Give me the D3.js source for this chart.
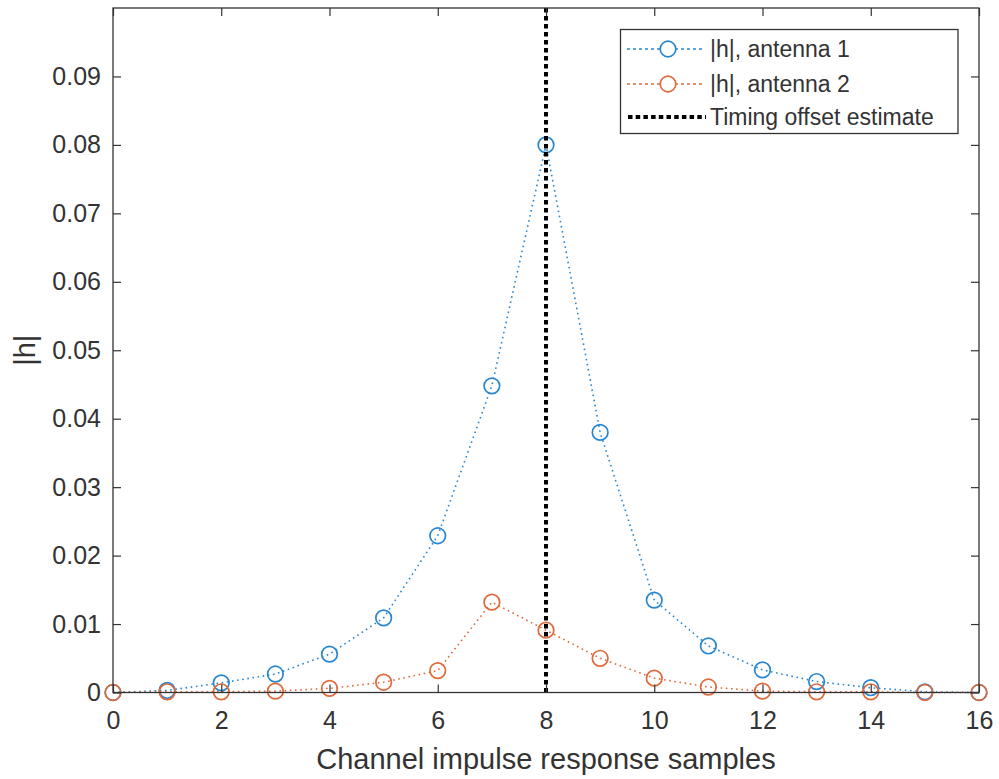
<!DOCTYPE html>
<html>
<head>
<meta charset="utf-8">
<script src="https://cdn.jsdelivr.net/npm/d3@7"></script>
<style>
  html, body { margin: 0; padding: 0; background: #fff; }
  svg { display: block; font-family: "Liberation Sans", Arial, Helvetica, sans-serif; }
</style>
</head>
<body>
<svg id="chart" width="999" height="779"></svg>
<script>
const samples = [0,1,2,3,4,5,6,7,8,9,10,11,12,13,14,15,16];
const antenna1 = [0.0000,0.0003,0.0014,0.0027,0.0056,0.0109,0.0229,0.0448,0.0800,0.0380,0.0135,0.0068,0.0033,0.0016,0.0007,0.0001,0.0000];
const antenna2 = [0.0000,0.0001,0.0001,0.0002,0.0006,0.0015,0.0032,0.0132,0.0091,0.0050,0.0021,0.0008,0.0002,0.0001,0.0001,0.0000,0.0000];
const timingOffset = 8;
const xTicks = [0,2,4,6,8,10,12,14,16];
const yTicks = [0,0.01,0.02,0.03,0.04,0.05,0.06,0.07,0.08,0.09];
const seriesNames = ["|h|, antenna 1", "|h|, antenna 2", "Timing offset estimate"];
const seriesColors = ["#2A86CF", "#E06A3C", "#000000"];

const svg = d3.select("#chart");
const pLeft = 113, pRight = 979, pTop = 8, pBottom = 692.5;
const axisColor = "#333333";
const x = d3.scaleLinear().domain([0,16]).range([pLeft,pRight]);
const y = d3.scaleLinear().domain([0,0.1]).range([pBottom,pTop]);
const tickFont = 25, labelFont = 29, legendFont = 23;

// data series
const series = [antenna1, antenna2];
const line = d3.line().x((d,i)=>x(samples[i])).y(d=>y(d));
series.forEach((vals, k) => {
  const g = svg.append("g");
  g.append("path").datum(vals).attr("d", line)
    .attr("fill","none").attr("stroke",seriesColors[k])
    .attr("stroke-width",1.6).attr("stroke-dasharray","1.6,3.6");
  g.selectAll("circle").data(vals).join("circle")
    .attr("cx",(d,i)=>x(samples[i])).attr("cy",d=>y(d)).attr("r",7.8)
    .attr("fill","none").attr("stroke",seriesColors[k]).attr("stroke-width",1.7);
});

// timing offset line
svg.append("line")
  .attr("x1",x(timingOffset)).attr("x2",x(timingOffset))
  .attr("y1",y(0)).attr("y2",y(0.1))
  .attr("stroke","#000").attr("stroke-width",4).attr("stroke-dasharray","4.5,3.5");

// axes
const xAxisB = d3.axisBottom(x).tickValues(xTicks).tickSize(-8).tickPadding(19).tickFormat(d3.format("d"));
const xAxisT = d3.axisTop(x).tickValues(xTicks).tickSize(-8).tickFormat("");
const yAxisL = d3.axisLeft(y).tickValues(yTicks).tickSize(-8).tickPadding(12).tickFormat(d=> d===0 ? "0" : d3.format(".2f")(d));
const yAxisR = d3.axisRight(y).tickValues(yTicks).tickSize(-8).tickFormat("");

function style(g){
  g.select(".domain").remove();
  g.selectAll("line").attr("stroke",axisColor).attr("stroke-width",1.2);
  g.selectAll("text").attr("fill",axisColor).attr("font-size",tickFont).attr("font-family",null);
}
svg.append("g").attr("transform",`translate(0,${pBottom})`).call(xAxisB).call(style);
svg.append("g").attr("transform",`translate(0,${pTop})`).call(xAxisT).call(style);
svg.append("g").attr("transform",`translate(${pLeft},0)`).call(yAxisL).call(style);
svg.append("g").attr("transform",`translate(${pRight},0)`).call(yAxisR).call(style);

svg.append("rect").attr("x",pLeft).attr("y",pTop).attr("width",pRight-pLeft).attr("height",pBottom-pTop)
  .attr("fill","none").attr("stroke",axisColor).attr("stroke-width",1.3);

// labels
svg.append("text").attr("x",(pLeft+pRight)/2).attr("y",769).attr("text-anchor","middle")
  .attr("font-size",labelFont).attr("fill",axisColor).text("Channel impulse response samples");
svg.append("text").attr("transform",`translate(35,${(pTop+pBottom)/2}) rotate(-90)`).attr("text-anchor","middle")
  .attr("font-size",labelFont).attr("fill",axisColor).text("|h|");

// legend
const lg = svg.append("g");
lg.append("rect").attr("x",620.5).attr("y",29.5).attr("width",337.5).attr("height",104)
  .attr("fill","#fff").attr("stroke",axisColor).attr("stroke-width",1.3);
const rowsY = [49, 84, 117];
seriesNames.forEach((name,k)=>{
  const yy = rowsY[k];
  if (k < 2) {
    lg.append("line").attr("x1",627).attr("x2",705).attr("y1",yy).attr("y2",yy)
      .attr("stroke",seriesColors[k]).attr("stroke-width",1.4).attr("stroke-dasharray","3,3");
    lg.append("circle").attr("cx",668).attr("cy",yy).attr("r",7.8).attr("fill","#fff")
      .attr("stroke",seriesColors[k]).attr("stroke-width",1.7);
  } else {
    lg.append("line").attr("x1",628).attr("x2",706).attr("y1",yy).attr("y2",yy)
      .attr("stroke","#000").attr("stroke-width",4).attr("stroke-dasharray","4.5,3.2");
  }
  lg.append("text").attr("x",710).attr("y",yy).attr("dy","0.35em")
    .attr("font-size",legendFont).attr("fill",axisColor).text(name);
});
</script>
</body>
</html>
